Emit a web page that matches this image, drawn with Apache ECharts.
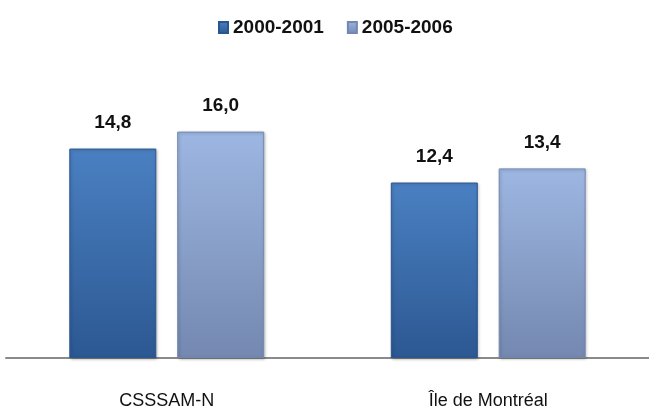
<!DOCTYPE html>
<html>
<head>
<meta charset="utf-8">
<script src="https://cdn.jsdelivr.net/npm/echarts@6/dist/echarts.min.js"></script>
<style>
  html, body { margin: 0; padding: 0; background: #fff; }
  #chart { width: 649px; height: 414px; }
</style>
</head>
<body>
<div id="chart"></div>
<script>
const categories = ['CSSSAM-N', 'Île de Montréal'];
const seriesNames = ['2000-2001', '2005-2006'];
const values2000 = [14.8, 12.4];
const values2005 = [16.0, 13.4];

const FONT = '"Liberation Sans", Arial, sans-serif';

function barGradient(top, bottom) {
    return new echarts.graphic.LinearGradient(0, 0, 0, 1, [
        { offset: 0, color: top },
        { offset: 1, color: bottom }
    ]);
}

function makeSeries(name, data, top, bottom, border) {
    return {
        name: name,
        type: 'bar',
        data: data,
        barWidth: 87,
        barGap: '24%',
        itemStyle: {
            color: barGradient(top, bottom),
            borderColor: border,
            borderWidth: 1,
            shadowColor: 'rgba(0,0,0,0.25)',
            shadowBlur: 3,
            shadowOffsetX: 1,
            shadowOffsetY: 1
        },
        label: {
            show: true,
            position: 'top',
            distance: 16,
            color: '#111',
            fontFamily: FONT,
            fontWeight: 'bold',
            fontSize: 19,
            formatter: p => p.value.toFixed(1).replace('.', ',')
        }
    };
}

const chart = echarts.init(document.getElementById('chart'));
chart.setOption({
    animation: false,
    legend: {
        top: 13,
        left: 213,
        itemWidth: 9,
        itemHeight: 11,
        itemGap: 23,
        icon: 'rect',
        data: seriesNames,
        textStyle: { color: '#111', fontFamily: FONT, fontWeight: 'bold', fontSize: 19 }
    },
    grid: { left: 6, right: -2, top: 75, bottom: 56 },
    xAxis: {
        type: 'category',
        data: categories,
        axisLine: { lineStyle: { color: '#8a8a8a', width: 2 } },
        axisTick: { show: false },
        axisLabel: { color: '#111', fontFamily: FONT, fontSize: 18, margin: 34 }
    },
    yAxis: {
        type: 'value',
        min: 0,
        max: 20,
        show: false,
        splitLine: { show: false }
    },
    series: [
        makeSeries(seriesNames[0], values2000, '#4a80c2', '#2c5892', '#2a5590'),
        makeSeries(seriesNames[1], values2005, '#9db7e2', '#7488b0', '#7388b0')
    ]
});
</script>
</body>
</html>
